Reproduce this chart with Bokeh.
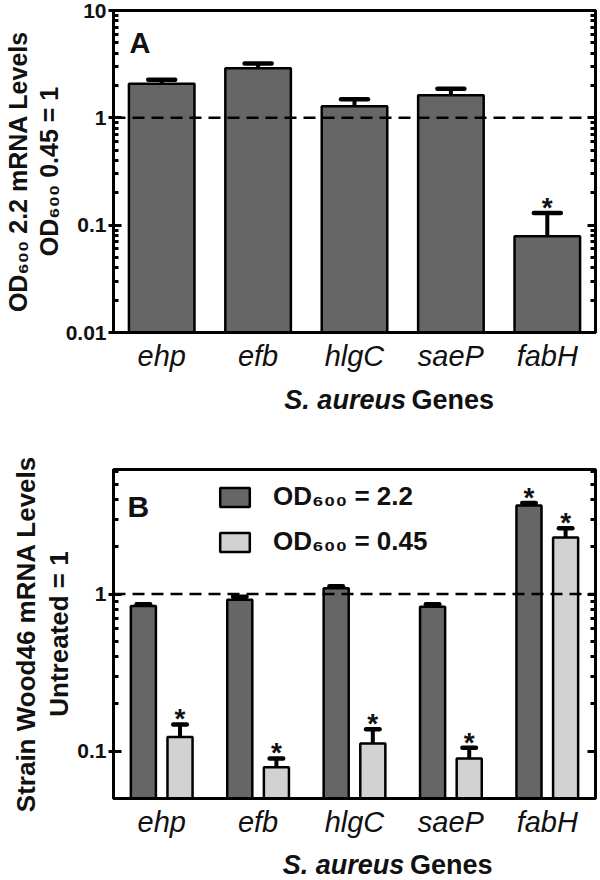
from bokeh.plotting import figure
from bokeh.models import (ColumnDataSource, FactorRange, Range1d, FixedTicker, LogAxis,
                          CustomJSTickFormatter, Span, Label, Legend, LegendItem)
from bokeh.transform import dodge
from bokeh.layouts import column
from bokeh.embed import file_html
from bokeh.resources import INLINE
from bokeh.core.properties import value

# ---------------- data ----------------
genes = ["ehp", "efb", "hlgC", "saeP", "fabH"]

# Panel A: OD600 2.2 vs OD600 0.45 ratio
a_ratio = [2.08, 2.90, 1.28, 1.62, 0.079]
a_err = [0.18, 0.30, 0.21, 0.25, 0.051]
a_sig = [False, False, False, False, True]

# Panel B: treated / untreated
b_od22 = [0.84, 0.92, 1.09, 0.83, 3.66]
b_od22_err = [0.02, 0.04, 0.03, 0.03, 0.14]
b_od22_sig = [False, False, False, False, True]
b_od045 = [0.123, 0.079, 0.112, 0.090, 2.29]
b_od045_err = [0.025, 0.011, 0.026, 0.015, 0.33]
b_od045_sig = [True, True, True, True, True]

a_major = [0.01, 0.1, 1, 10]
a_minor = [m * d for d in [0.01, 0.1, 1] for m in range(2, 10)]
b_major = [0.1, 1]
b_minor = [m * 0.1 for m in range(2, 10)] + [2, 3, 4, 5, 6]

x_title_italic = "S. aureus"
x_title_plain = "Genes"

DARK = "#666666"
LIGHT = "#d2d2d2"
INK = "#111111"
FONT = "Liberation Sans"
W = 600
fmt = CustomJSTickFormatter(code="return String(tick)")


def style(p, major, minor, label_size):
    p.outline_line_color = "black"
    p.outline_line_width = 3
    p.xgrid.grid_line_color = None
    p.ygrid.grid_line_color = None
    ax = p.xaxis[0]
    ax.axis_line_width = 3
    ax.major_tick_line_color = None
    ax.minor_tick_line_color = None
    ax.major_tick_out = 0
    ax.major_tick_in = 0
    ax.major_label_text_font = FONT
    ax.major_label_text_font_style = "italic"
    ax.major_label_text_font_size = "29px"
    ax.major_label_text_color = INK
    ax.major_label_standoff = 7
    ay = p.yaxis[0]
    ay.ticker = FixedTicker(ticks=major, minor_ticks=minor)
    ay.formatter = fmt
    ay.axis_line_width = 3
    ay.major_tick_line_width = 3
    ay.minor_tick_line_width = 3
    ay.major_tick_in = 8
    ay.major_tick_out = 5
    ay.minor_tick_in = 5
    ay.minor_tick_out = 0
    ay.major_label_text_font = FONT
    ay.major_label_text_font_style = "bold"
    ay.major_label_text_font_size = "21px"
    ay.major_label_text_color = INK
    ay.major_label_standoff = 2
    ay.axis_label_text_font = FONT
    ay.axis_label_text_font_style = "bold"
    ay.axis_label_text_font_size = label_size
    ay.axis_label_text_line_height = 1.1
    ay.axis_label_text_color = INK
    ay.axis_label_standoff = 0
    ry = LogAxis(ticker=FixedTicker(ticks=major, minor_ticks=minor),
                 major_label_text_font_size="0px", major_label_text_alpha=0,
                 axis_line_width=3, major_tick_line_width=3, minor_tick_line_width=3,
                 major_tick_in=8, major_tick_out=0, minor_tick_in=5, minor_tick_out=0,
                 major_label_standoff=0)
    p.add_layout(ry, "right")
    p.add_layout(Span(location=1, dimension="width", line_color="black",
                      line_width=2.5, line_dash="12 7"))


def title_fig(h, cx):
    t = figure(width=W, height=h, x_range=Range1d(0, W), y_range=Range1d(0, h),
               min_border=0, output_backend="svg", toolbar_location=None)
    t.axis.visible = False
    t.grid.grid_line_color = None
    t.outline_line_color = None
    t.text(x=[cx + 12], y=[h / 2], text=[x_title_italic], text_font=value(FONT),
           text_font_style="bold italic", text_font_size="27px", text_align="right",
           text_baseline="middle", text_color=INK)
    t.text(x=[cx + 19], y=[h / 2], text=[x_title_plain], text_font=value(FONT),
           text_font_style="bold", text_font_size="27px", text_align="left",
           text_baseline="middle", text_color=INK)
    return t


# ---------------- panel A ----------------
p1 = figure(x_range=FactorRange(*genes), y_range=Range1d(0.01, 10), y_axis_type="log",
            width=W, height=384, min_border_left=110, min_border_right=5,
            min_border_top=10, min_border_bottom=52,
            output_backend="svg", toolbar_location=None)
p1.yaxis.axis_label = "OD₆₀₀ 2.2 mRNA Levels\nOD₆₀₀ 0.45 = 1"
style(p1, a_major, a_minor, "25px")

src_a = ColumnDataSource(dict(gene=genes, val=a_ratio,
                              top=[v + e for v, e in zip(a_ratio, a_err)],
                              base=[0.001] * len(genes)))
p1.vbar(x="gene", top="val", bottom="base", width=0.68, source=src_a,
        fill_color=DARK, line_color="black", line_width=2.5)
p1.segment(x0="gene", x1="gene", y0="val", y1="top", source=src_a,
           line_color="black", line_width=4)
p1.segment(x0=dodge("gene", -0.14, range=p1.x_range), x1=dodge("gene", 0.14, range=p1.x_range),
           y0="top", y1="top", source=src_a, line_color="black", line_width=4.5,
           line_cap="round")
star_a = ColumnDataSource(dict(gene=[g for g, s in zip(genes, a_sig) if s],
                               y=[v + e for v, e, s in zip(a_ratio, a_err, a_sig) if s]))
p1.text(x="gene", y="y", text=value("*"), source=star_a, text_font=value(FONT),
        text_font_style="bold", text_font_size="28px", text_align="center",
        text_baseline="bottom", y_offset=10, text_color=INK)
p1.add_layout(Label(x=16, y=10, x_units="screen", y_units="data", y_offset=-16, text="A",
                    text_font=FONT, text_font_style="bold", text_font_size="29px",
                    text_baseline="top", text_color=INK))
t1 = title_fig(30, 352)

# ---------------- panel B ----------------
p2 = figure(x_range=FactorRange(*genes), y_range=Range1d(0.05, 6.2), y_axis_type="log",
            width=W, height=434, min_border_left=96, min_border_right=5,
            min_border_top=55, min_border_bottom=50,
            output_backend="svg", toolbar_location=None)
p2.yaxis.axis_label = "Strain Wood46 mRNA Levels\nUntreated = 1"
style(p2, b_major, b_minor, "26px")

src_b = ColumnDataSource(dict(
    gene=genes,
    v1=b_od22, t1=[v + e for v, e in zip(b_od22, b_od22_err)],
    v2=b_od045, t2=[v + e for v, e in zip(b_od045, b_od045_err)],
    base=[0.001] * len(genes)))
OFF = 0.19
r1 = p2.vbar(x=dodge("gene", -OFF, range=p2.x_range), top="v1", bottom="base", width=0.26,
             source=src_b, fill_color=DARK, line_color="black", line_width=2.5)
r2 = p2.vbar(x=dodge("gene", OFF, range=p2.x_range), top="v2", bottom="base", width=0.26,
             source=src_b, fill_color=LIGHT, line_color="black", line_width=2.5)
for off, v, t in [(-OFF, "v1", "t1"), (OFF, "v2", "t2")]:
    p2.segment(x0=dodge("gene", off, range=p2.x_range), x1=dodge("gene", off, range=p2.x_range),
               y0=v, y1=t, source=src_b, line_color="black", line_width=4)
    p2.segment(x0=dodge("gene", off - 0.07, range=p2.x_range),
               x1=dodge("gene", off + 0.07, range=p2.x_range),
               y0=t, y1=t, source=src_b, line_color="black", line_width=4.5, line_cap="round")

star_b1 = ColumnDataSource(dict(gene=[g for g, s in zip(genes, b_od22_sig) if s],
                                y=[v + e for v, e, s in zip(b_od22, b_od22_err, b_od22_sig) if s]))
star_b2 = ColumnDataSource(dict(gene=[g for g, s in zip(genes, b_od045_sig) if s],
                                y=[v + e for v, e, s in zip(b_od045, b_od045_err, b_od045_sig) if s]))
for src, off in [(star_b1, -OFF), (star_b2, OFF)]:
    p2.text(x=dodge("gene", off, range=p2.x_range), y="y", text=value("*"), source=src,
            text_font=value(FONT), text_font_style="bold", text_font_size="28px",
            text_align="center", text_baseline="bottom", y_offset=10, text_color=INK)

p2.add_layout(Label(x=14, y=6.2, x_units="screen", y_units="data", y_offset=-20, text="B",
                    text_font=FONT, text_font_style="bold", text_font_size="30px",
                    text_baseline="top", text_color=INK))
legend = Legend(items=[LegendItem(label="OD₆₀₀ = 2.2", renderers=[r1]),
                       LegendItem(label="OD₆₀₀ = 0.45", renderers=[r2])],
                location=(103, 241), orientation="vertical",
                glyph_width=37, glyph_height=24, label_height=24, spacing=14,
                padding=0, margin=0, label_standoff=20,
                label_text_font=FONT, label_text_font_style="bold",
                label_text_font_size="26px", label_text_color=INK,
                border_line_color=None, background_fill_alpha=0)
p2.add_layout(legend, "center")
t2 = title_fig(32, 350)

layout = column(p1, t1, p2, t2, spacing=0)
open("out.html", "w").write(file_html(layout, INLINE))
